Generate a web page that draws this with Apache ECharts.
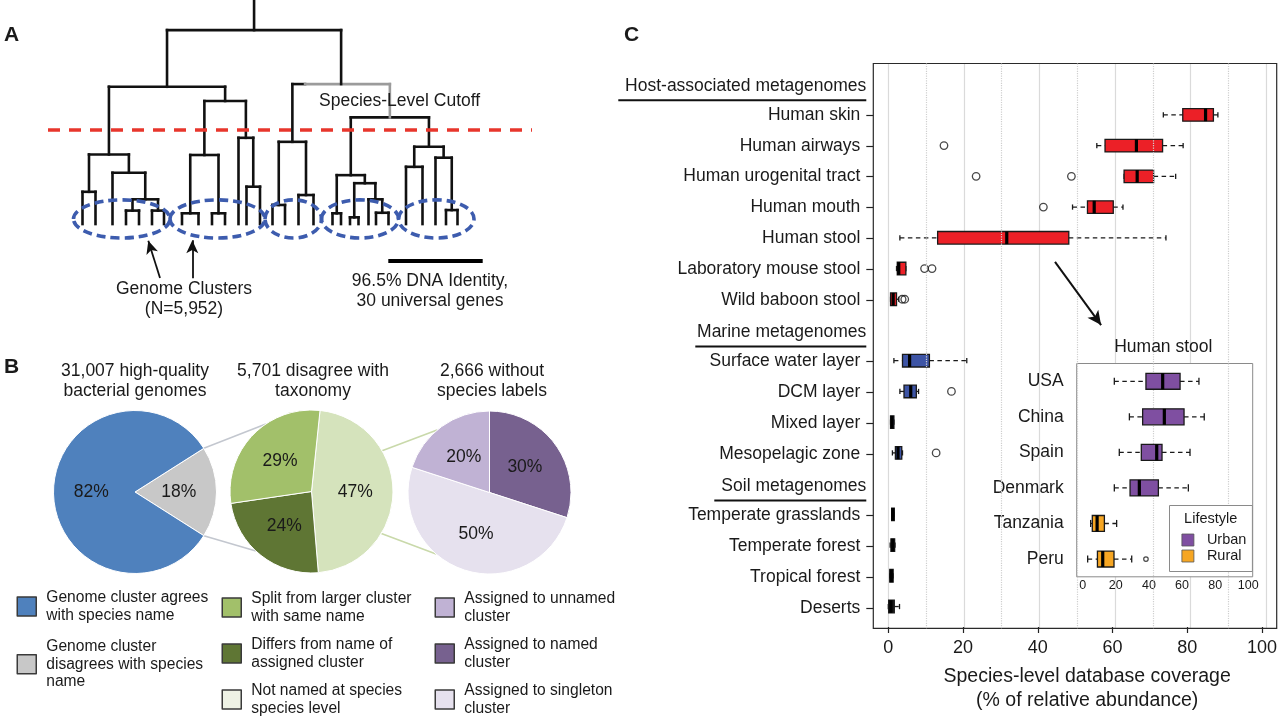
<!DOCTYPE html>
<html><head><meta charset="utf-8">
<script src="https://cdn.jsdelivr.net/npm/echarts@6/dist/echarts.min.js"></script>
<style>html,body{margin:0;padding:0;background:#fff}#c{width:1280px;height:717px}</style>
</head><body><div id="c"></div><script>
const FONT = '"Liberation Sans", Arial, Helvetica, sans-serif';
const INK = '#1a1a1a';

// ---------- Panel A : dendrogram (x = layout units, y = divergence units) ----------
const leafX = [8.5, 11.1, 14.5, 17.2, 19.8, 22.4, 24.8, 28.4, 31.7, 34.4, 37.0, 39.7, 41.3, 44.0,
  46.5, 49.0, 51.7, 54.7, 58.5, 60.2, 62.0, 63.7, 65.7, 67.2, 69.7, 73.2, 76.5, 79.1, 81.2, 83.5];
// node = [height, left, right, grayRightArm]; numbers = leaf indices
const tree = [7.22,
  [5.11,
    [2.59, [1.20, 0, 1], [1.91, 2, [0.92, [0.50, 3, 4], [0.50, 5, 6]]]],
    [4.58, [2.57, [0.40, 7, 8], [0.40, 9, 10]], [3.21, 11, [1.39, 12, 13]]]],
  [5.21,
    [3.06, [0.71, 14, 15], [1.08, 16, 17]],
    [3.97, [1.82, [0.40, 18, 19], [1.52, [0.25, 20, 21], [0.92, 22, [0.42, 23, 24]]]],
           [2.88, [2.13, 25, 26], [2.47, 27, [0.52, 28, 29]]]], 1]];
const treeTop = 8.34;
const clusterSpans = [[6.7, 26.0], [26.0, 45.0], [45.0, 56.3], [56.3, 71.7], [71.7, 86.8]];
const cutoffLevel = 3.5;

// ---------- Panel B : pies ----------
const pie1Names = ['Genome cluster agrees\nwith species name', 'Genome cluster\ndisagrees with species\nname'];
const pie1Values = [82, 18];
const pie2Names = ['Split from larger cluster\nwith same name', 'Differs from name of\nassigned cluster', 'Not named at species\nspecies level'];
const pie2Values = [29, 24, 47];
const pie3Names = ['Assigned to unnamed\ncluster', 'Assigned to named\ncluster', 'Assigned to singleton\ncluster'];
const pie3Values = [20, 30, 50];

// ---------- Panel C : boxplots [category, min, Q1, median, Q3, max] ----------
const categories = ['Host-associated metagenomes', 'Human skin', 'Human airways', 'Human urogenital tract',
  'Human mouth', 'Human stool', 'Laboratory mouse stool', 'Wild baboon stool', 'Marine metagenomes',
  'Surface water layer', 'DCM layer', 'Mixed layer', 'Mesopelagic zone', 'Soil metagenomes',
  'Temperate grasslands', 'Temperate forest', 'Tropical forest', 'Deserts'];
const headings = ['Host-associated metagenomes', 'Marine metagenomes', 'Soil metagenomes'];
const hostBoxes = [
  ['Human skin', 73.6, 78.8, 84.9, 87.0, 88.2],
  ['Human airways', 55.8, 58.0, 66.4, 73.4, 78.9],
  ['Human urogenital tract', 63.1, 63.1, 66.6, 71.0, 76.9],
  ['Human mouth', 49.3, 53.3, 55.1, 60.2, 62.8],
  ['Human stool', 3.1, 13.2, 31.7, 48.3, 74.3],
  ['Laboratory mouse stool', 2.2, 2.4, 2.8, 4.7, 4.7],
  ['Wild baboon stool', 0.6, 0.6, 1.3, 2.2, 2.8]];
const hostOutliers = [[14.9, 'Human airways'], [23.5, 'Human urogenital tract'], [49.0, 'Human urogenital tract'],
  [41.5, 'Human mouth'], [9.7, 'Laboratory mouse stool'], [11.7, 'Laboratory mouse stool'],
  [3.7, 'Wild baboon stool'], [4.4, 'Wild baboon stool']];
const marineBoxes = [
  ['Surface water layer', 1.5, 3.8, 5.7, 11.0, 21.0],
  ['DCM layer', 3.1, 4.2, 6.0, 7.5, 8.1],
  ['Mixed layer', 0.6, 0.6, 1.0, 1.5, 1.5],
  ['Mesopelagic zone', 1.1, 1.9, 2.6, 3.6, 3.8]];
const marineOutliers = [[16.9, 'DCM layer'], [12.8, 'Mesopelagic zone']];
const soilBoxes = [
  ['Temperate grasslands', 0.9, 0.9, 1.2, 1.6, 1.6],
  ['Temperate forest', 0.5, 0.7, 1.2, 1.7, 1.8],
  ['Tropical forest', 0.4, 0.4, 0.8, 1.3, 1.3],
  ['Deserts', 0.0, 0.1, 0.7, 1.6, 3.0]];
const minorGrid = [10, 30, 50, 70, 90];

const insetCats = ['USA', 'China', 'Spain', 'Denmark', 'Tanzania', 'Peru'];
const urbanBoxes = [
  ['USA', 19.1, 38.2, 48.3, 58.8, 70.2],
  ['China', 28.2, 36.2, 49.3, 61.2, 73.4],
  ['Spain', 22.1, 35.4, 44.7, 47.9, 64.8],
  ['Denmark', 19.1, 28.6, 34.2, 45.7, 63.8]];
const ruralBoxes = [
  ['Tanzania', 4.8, 5.8, 8.7, 13.1, 20.5],
  ['Peru', 3.0, 8.9, 12.1, 18.9, 29.6]];
const insetOutliers = [[38.2, 'Peru']];

// ---------- build dendrogram segments ----------
const segs = [];
function build(node) {
  if (typeof node === 'number') return { x: leafX[node], h: 0 };
  const h = node[0], a = build(node[1]), b = build(node[2]), gray = node[3];
  segs.push([a.x, a.h, a.x, h, 0]);
  if (gray) {
    const xs = a.x + (b.x - a.x) * 0.13;
    segs.push([a.x, h, xs, h, 0]);
    segs.push([xs, h, b.x, h, 1]);
    segs.push([b.x, b.h, b.x, h, 1]);
  } else {
    segs.push([a.x, h, b.x, h, 0]);
    segs.push([b.x, b.h, b.x, h, 0]);
  }
  return { x: (a.x + b.x) / 2, h };
}
const rootNode = build(tree);
segs.push([rootNode.x, rootNode.h, rootNode.x, treeTop, 0]);

// ---------- renderers ----------
function boxRenderer(frac, capFrac) {
  return function (params, api) {
    const c = api.value(0);
    const p = [1, 2, 3, 4, 5].map(i => api.coord([api.value(i), c]));
    const y = p[2][1];
    const band = api.size([0, 1])[1];
    const h = band * frac, ch = band * capFrac;
    const dash = { stroke: INK, lineWidth: 1.3, lineDash: [4.5, 3.5] };
    const solid = { stroke: INK, lineWidth: 1.3 };
    return { type: 'group', children: [
      { type: 'line', shape: { x1: p[0][0], y1: y, x2: p[1][0], y2: y }, style: dash },
      { type: 'line', shape: { x1: p[3][0], y1: y, x2: p[4][0], y2: y }, style: dash },
      { type: 'line', shape: { x1: p[0][0], y1: y - ch / 2, x2: p[0][0], y2: y + ch / 2 }, style: solid },
      { type: 'line', shape: { x1: p[4][0], y1: y - ch / 2, x2: p[4][0], y2: y + ch / 2 }, style: solid },
      { type: 'rect', shape: { x: p[1][0], y: y - h / 2, width: Math.max(p[3][0] - p[1][0], 1.5), height: h },
        style: { fill: api.visual('color'), stroke: INK, lineWidth: 1.3 } },
      { type: 'line', shape: { x1: p[2][0], y1: y - h / 2, x2: p[2][0], y2: y + h / 2 }, style: { stroke: '#000', lineWidth: 3.2 } }
    ] };
  };
}
function segRenderer(params, api) {
  const a = api.coord([api.value(0), api.value(1)]);
  const b = api.coord([api.value(2), api.value(3)]);
  return { type: 'line', shape: { x1: a[0], y1: a[1], x2: b[0], y2: b[1] },
    style: { stroke: api.value(4) ? '#9b9b9b' : '#111', lineWidth: 2.6, lineCap: 'square' } };
}
const ellipseCenter = 0.19, ellipseHalf = 0.71;
function ellipseRenderer(params, api) {
  const a = api.coord([api.value(0), ellipseCenter]);
  const b = api.coord([api.value(1), ellipseCenter]);
  const ry = Math.abs(api.coord([0, ellipseCenter + ellipseHalf])[1] - a[1]);
  return { type: 'ellipse', shape: { cx: (a[0] + b[0]) / 2, cy: a[1], rx: (b[0] - a[0]) / 2, ry },
    style: { fill: 'none', stroke: '#3d5cae', lineWidth: 3.6, lineDash: [9, 5] } };
}

// ---------- graphic helpers ----------
function txt(x, y, text, size, o) {
  o = o || {};
  const al = o.align || 'center';
  return { type: 'text', x, y, z: 100, silent: true, style: {
    text, font: (o.bold ? 'bold ' : '') + size + 'px ' + FONT, fill: o.color || INK,
    align: al, textAlign: al, verticalAlign: 'middle', textVerticalAlign: 'middle',
    lineHeight: o.lh || Math.round(size * 1.12) } };
}
const pies = [{ c: [135, 492], r: 81.5 }, { c: [311.5, 491.5], r: 81.5 }, { c: [489.5, 492.5], r: 81.5 }];
function piePt(i, deg) {
  const p = pies[i], t = deg * Math.PI / 180;
  return [p.c[0] + p.r * Math.cos(t), p.c[1] - p.r * Math.sin(t)];
}
const connectors = [[0, 32.4, 1, 124, '#c3c7cf'], [0, -32.4, 1, 227, '#c3c7cf'], [1, 30, 2, 130, '#c9d9aa'], [1, -31, 2, 229, '#c9d9aa']];
const connectorEls = connectors.map(k => {
  const a = piePt(k[0], k[1]), b = piePt(k[2], k[3]);
  return { type: 'line', z: 0, silent: true, shape: { x1: a[0], y1: a[1], x2: b[0], y2: b[1] }, style: { stroke: k[4], lineWidth: 1.6 } };
});

// ---------- legend helper for pies ----------
function pieLegend(left, top, names, gap, colorOverride) {
  return { orient: 'vertical', left, top, padding: 0, itemGap: gap, itemWidth: 19, itemHeight: 19,
    icon: 'rect', selectedMode: false,
    itemStyle: { borderColor: '#3a3a3a', borderWidth: 1.5 },
    textStyle: { fontFamily: FONT, fontSize: 15.6, lineHeight: 17.5, color: INK, padding: [0, 0, 0, 5] },
    data: names.map(n => colorOverride && colorOverride[n] ? { name: n, itemStyle: { color: colorOverride[n] } } : { name: n }) };
}

const pieLabel = { show: true, position: 'inside', formatter: '{c}%', fontFamily: FONT, fontSize: 17.5, color: INK };
const chart = echarts.init(document.getElementById('c'));
const headingRich = {
  s: { height: 10, lineHeight: 10, align: 'right' },
  h: { fontSize: 17.5, lineHeight: 22, color: INK, align: 'right', fontFamily: FONT },
  u0: { width: 248, height: 2, lineHeight: 6, backgroundColor: '#111', align: 'right' },
  u1: { width: 171, height: 2, lineHeight: 6, backgroundColor: '#111', align: 'right' },
  u2: { width: 152, height: 2, lineHeight: 6, backgroundColor: '#111', align: 'right' },
  n: { fontSize: 17.5, color: INK, padding: [0, 6, 0, 0], align: 'right', fontFamily: FONT }
};

chart.setOption({
  animation: false,
  textStyle: { fontFamily: FONT },
  grid: [
    { left: 873.3, top: 63.5, width: 403.4, height: 564.8, show: true, borderColor: '#2a2a2a', borderWidth: 1.2, backgroundColor: 'transparent', z: 2 },
    { left: 888.3, top: 68.8, width: 378, height: 554.4 },
    { left: 1076.7, top: 363.5, width: 176, height: 213.3, show: true, backgroundColor: '#fff', borderColor: '#8a8a8a', borderWidth: 1, z: 3 },
    { left: 40, top: 0, width: 500, height: 331.5 },
    { left: 873.3, top: 68.8, width: 403.4, height: 554.4 }
  ],
  xAxis: [
    { gridIndex: 0, type: 'value', min: -3.97, max: 102.75, axisLine: { show: false }, axisTick: { show: false }, axisLabel: { show: false },
      splitLine: { show: true, showMinLine: false, showMaxLine: false, lineStyle: { color: '#dadada', width: 1.2 } } },
    { gridIndex: 1, type: 'value', min: 0, max: 100, interval: 20, offset: 5.1, axisLine: { show: false },
      axisTick: { show: true, length: 6, lineStyle: { color: '#222', width: 1.2 } },
      axisLabel: { fontSize: 18, margin: 12, color: INK },
      splitLine: { show: false },
      name: 'Species-level database coverage\n(% of relative abundance)', nameLocation: 'middle', nameGap: 38,
      nameTextStyle: { fontSize: 19.5, lineHeight: 23.5, color: INK, padding: [0, 0, 0, 24] } },
    { gridIndex: 2, type: 'value', min: -3.62, max: 102.66, axisLine: { show: false }, axisTick: { show: false },
      axisLabel: { fontSize: 12.5, margin: 2, color: INK, formatter: v => (Math.abs(v % 20) < 1e-6 && v >= 0 && v <= 100 ? String(v) : '') },
      splitLine: { show: false } },
    { gridIndex: 3, type: 'value', min: 0, max: 100, show: false },
    { gridIndex: 4, type: 'value', min: 0, max: 1, show: false }
  ],
  yAxis: [
    { gridIndex: 0, type: 'value', inverse: true, min: -0.6721, max: 17.6661, show: false },
    { gridIndex: 1, type: 'category', data: categories, inverse: true, show: false },
    { gridIndex: 2, type: 'category', data: insetCats, inverse: true,
      axisLine: { show: false },
      axisTick: { show: true, alignWithLabel: true, length: 5, lineStyle: { color: '#555', width: 1.1 } },
      axisLabel: { interval: 0, margin: 13, fontSize: 17.5, color: INK }, splitLine: { show: false } },
    { gridIndex: 3, type: 'value', min: -4, max: treeTop, show: false },
    { gridIndex: 4, type: 'category', data: categories, inverse: true,
      axisLine: { show: false },
      axisTick: { show: true, alignWithLabel: true, length: 7, lineStyle: { color: '#222', width: 1.2 },
        interval: (i, v) => headings.indexOf(v) < 0 },
      axisLabel: { interval: 0, margin: 7, rich: headingRich,
        formatter: v => { const k = headings.indexOf(v); return k < 0 ? '{n|' + v + '}' : '{s|}\n{h|' + v + '}\n{u' + k + '|}'; } },
      splitLine: { show: false } }
  ],
  legend: [
    pieLegend(16.5, 589, pie1Names, 14, null),
    pieLegend(221.5, 590, pie2Names, 11, { 'Not named at species\nspecies level': '#eef2e5' }),
    pieLegend(434.5, 590, pie3Names, 11, null),
    { orient: 'vertical', left: 1169.5, top: 505.5, padding: [27, 6, 8, 12], itemGap: 1, itemWidth: 12, itemHeight: 12,
      icon: 'rect', selectedMode: false, backgroundColor: '#fff', borderColor: '#8a8a8a', borderWidth: 1, z: 6,
      itemStyle: { borderColor: '#555', borderWidth: 0.8 },
      textStyle: { fontSize: 14.5, color: INK, padding: [0, 0, 0, 8] }, data: ['Urban', 'Rural'] }
  ],
  series: [
    { type: 'line', xAxisIndex: 0, yAxisIndex: 0, data: [], z: 1, silent: true,
      markLine: { silent: true, symbol: ['none', 'none'], label: { show: false },
        lineStyle: { type: 'dotted', color: '#cfcfcf', width: 1.2 },
        data: minorGrid.map(v => ({ xAxis: v })).concat([
          [{ coord: [44.1, 5.77], symbol: 'none', lineStyle: { type: 'solid', color: '#111', width: 2 } },
           { coord: [56.3, 7.82], symbol: 'arrow', symbolSize: [10, 14] }]]) } },
    { name: 'host', type: 'custom', xAxisIndex: 1, yAxisIndex: 1, renderItem: boxRenderer(0.41, 0.17),
      encode: { x: [1, 2, 3, 4, 5], y: 0 }, itemStyle: { color: '#ec2027' }, data: hostBoxes, silent: true },
    { name: 'marine', type: 'custom', xAxisIndex: 1, yAxisIndex: 1, renderItem: boxRenderer(0.41, 0.17),
      encode: { x: [1, 2, 3, 4, 5], y: 0 }, itemStyle: { color: '#3d54a5' }, data: marineBoxes, silent: true },
    { name: 'soil', type: 'custom', xAxisIndex: 1, yAxisIndex: 1, renderItem: boxRenderer(0.41, 0.17),
      encode: { x: [1, 2, 3, 4, 5], y: 0 }, itemStyle: { color: '#1a1a1a' }, data: soilBoxes, silent: true },
    { name: 'outliers', type: 'scatter', xAxisIndex: 1, yAxisIndex: 1, symbol: 'circle', symbolSize: 7.5, silent: true, z: 3,
      itemStyle: { color: 'transparent', borderColor: INK, borderWidth: 1.3 }, data: hostOutliers.concat(marineOutliers) },
    { name: 'Urban', type: 'custom', xAxisIndex: 2, yAxisIndex: 2, renderItem: boxRenderer(0.45, 0.2), z: 5,
      encode: { x: [1, 2, 3, 4, 5], y: 0 }, itemStyle: { color: '#7f4fa1' }, data: urbanBoxes, silent: true },
    { name: 'Rural', type: 'custom', xAxisIndex: 2, yAxisIndex: 2, renderItem: boxRenderer(0.45, 0.2), z: 5,
      encode: { x: [1, 2, 3, 4, 5], y: 0 }, itemStyle: { color: '#f6a623' }, data: ruralBoxes, silent: true },
    { name: 'insetOut', type: 'scatter', xAxisIndex: 2, yAxisIndex: 2, symbol: 'circle', symbolSize: 4.5, silent: true, z: 5,
      itemStyle: { color: 'transparent', borderColor: INK, borderWidth: 1.2 }, data: insetOutliers },
    { name: 'tree', type: 'custom', xAxisIndex: 3, yAxisIndex: 3, renderItem: segRenderer, z: 2, silent: true,
      encode: { x: [0, 2], y: [1, 3] }, data: segs },
    { name: 'clusters', type: 'custom', xAxisIndex: 3, yAxisIndex: 3, renderItem: ellipseRenderer, z: 3, silent: true,
      encode: { x: [0, 1] }, data: clusterSpans,
      markLine: { silent: true, symbol: ['none', 'none'], label: { show: false }, z: 4,
        data: [
          [{ coord: [1.6, cutoffLevel], lineStyle: { color: '#e8362c', width: 3.5, type: [12, 9] } }, { coord: [98.4, cutoffLevel] }],
          [{ coord: [24.0, -2.01], lineStyle: { color: '#111', width: 1.8, type: 'solid' } }, { coord: [21.66, -0.62], symbol: 'arrow', symbolSize: [9, 13] }],
          [{ coord: [30.46, -2.02], lineStyle: { color: '#111', width: 1.8, type: 'solid' } }, { coord: [30.46, -0.6], symbol: 'arrow', symbolSize: [9, 13] }],
          [{ coord: [69.66, -1.38], lineStyle: { color: '#000', width: 4, type: 'solid' } }, { coord: [88.54, -1.38] }]
        ] } },
    { type: 'pie', center: pies[0].c, radius: pies[0].r, startAngle: 32.4, clockwise: true, silent: true, z: 2,
      itemStyle: { borderColor: '#fff', borderWidth: 1 }, label: pieLabel, labelLine: { show: false },
      data: [{ name: pie1Names[1], value: pie1Values[1], itemStyle: { color: '#c8c8c8' } },
             { name: pie1Names[0], value: pie1Values[0], itemStyle: { color: '#4f81bd' } }] },
    { type: 'pie', center: pies[1].c, radius: pies[1].r, startAngle: 84, clockwise: true, silent: true, z: 2,
      itemStyle: { borderColor: '#fff', borderWidth: 1 }, label: pieLabel, labelLine: { show: false },
      data: [{ name: pie2Names[2], value: pie2Values[2], itemStyle: { color: '#d5e3bc' } },
             { name: pie2Names[1], value: pie2Values[1], itemStyle: { color: '#5f7634' } },
             { name: pie2Names[0], value: pie2Values[0], itemStyle: { color: '#a2c06a' } }] },
    { type: 'pie', center: pies[2].c, radius: pies[2].r, startAngle: 90, clockwise: true, silent: true, z: 2,
      itemStyle: { borderColor: '#fff', borderWidth: 1 }, label: pieLabel, labelLine: { show: false },
      data: [{ name: pie3Names[1], value: pie3Values[1], itemStyle: { color: '#77618f' } },
             { name: pie3Names[2], value: pie3Values[2], itemStyle: { color: '#e6e1ee' } },
             { name: pie3Names[0], value: pie3Values[0], itemStyle: { color: '#c0b2d4' } }] }
  ],
  graphic: [
    txt(4, 35, 'A', 21, { bold: true, align: 'left' }),
    txt(4, 367, 'B', 21, { bold: true, align: 'left' }),
    txt(624, 35, 'C', 21, { bold: true, align: 'left' }),
    txt(319, 101, 'Species-Level Cutoff', 17.5, { align: 'left' }),
    txt(184, 299, 'Genome Clusters\n(N=5,952)', 17.5, { lh: 19.5 }),
    txt(430, 291, '96.5% DNA Identity,\n30 universal genes', 17.5, { lh: 19.5 }),
    txt(135, 381, '31,007 high-quality\nbacterial genomes', 17.5, { lh: 19.5 }),
    txt(313, 381, '5,701 disagree with\ntaxonomy', 17.5, { lh: 19.5 }),
    txt(492, 381, '2,666 without\nspecies labels', 17.5, { lh: 19.5 }),
    txt(1163.3, 347, 'Human stool', 17.5),
    txt(1210.7, 519, 'Lifestyle', 14.5)
  ].concat(connectorEls)
});
</script></body></html>
